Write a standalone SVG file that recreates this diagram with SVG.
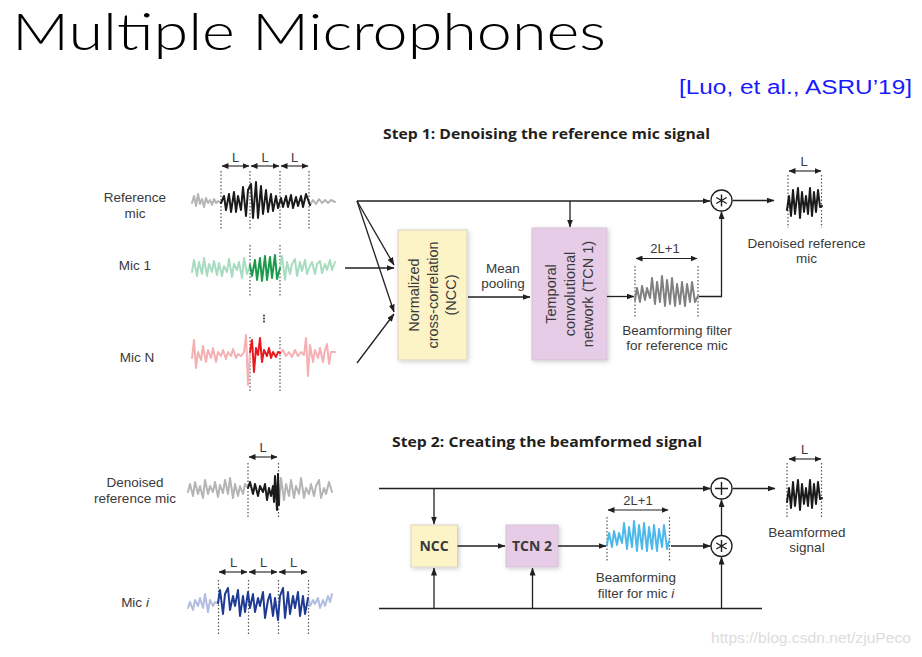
<svg xmlns="http://www.w3.org/2000/svg" width="922" height="657" viewBox="0 0 922 657">
<style>
.lbl{font-family:"Liberation Sans",Arial,sans-serif;font-size:13.5px;fill:#3a3a3a;text-anchor:middle}
.sm{font-family:"Liberation Sans",Arial,sans-serif;font-size:13px;fill:#3a3a3a;text-anchor:middle}
.hd{font-family:"Open Sans","Liberation Sans",sans-serif;font-size:15px;font-weight:bold;fill:#231f20}
.bx{font-family:"Liberation Sans",Arial,sans-serif;font-size:14.5px;fill:#3a3a3a;text-anchor:middle}
.bxb{font-family:"Open Sans","Liberation Sans",sans-serif;font-size:14px;font-weight:bold;fill:#3a3a3a;text-anchor:middle}
.ln{fill:none;stroke:#231f20;stroke-width:1.3}
.arr{fill:none;stroke:#231f20;stroke-width:1.3;marker-end:url(#ah)}
.dim{fill:none;stroke:#231f20;stroke-width:1.1;marker-end:url(#ah2);marker-start:url(#ah2s)}
.dot{fill:none;stroke:#555;stroke-width:1.2;stroke-dasharray:1.5 2}
.wv{fill:none;stroke-width:2;stroke-linejoin:round;stroke-linecap:round}
.op{fill:#fff;stroke:#231f20;stroke-width:1.3}
</style>
<defs>
<marker id="ah" markerWidth="8" markerHeight="6" refX="7.5" refY="3" orient="auto" markerUnits="userSpaceOnUse"><path d="M0,0 L8,3 L0,6 z" fill="#231f20"/></marker>
<marker id="ah2" markerWidth="7" markerHeight="6" refX="6.5" refY="3" orient="auto" markerUnits="userSpaceOnUse"><path d="M0,0 L7,3 L0,6 z" fill="#231f20"/></marker>
<marker id="ah2s" markerWidth="7" markerHeight="6" refX="0.5" refY="3" orient="auto" markerUnits="userSpaceOnUse"><path d="M7,0 L0,3 L7,6 z" fill="#231f20"/></marker>
<filter id="sh" x="-20%" y="-20%" width="140%" height="140%"><feDropShadow dx="1.5" dy="1.5" stdDeviation="2" flood-color="#000" flood-opacity="0.18"/></filter>
</defs>
<rect width="922" height="657" fill="#fff"/>

<g id="title">
<text x="12" y="50" font-family="Lato,'Liberation Sans',sans-serif" font-weight="300" font-size="52" fill="#000" textLength="594" lengthAdjust="spacingAndGlyphs">Multiple Microphones</text>
<text x="679" y="94" font-family="'Liberation Sans',sans-serif" font-size="20" fill="#1a1aff" textLength="233" lengthAdjust="spacingAndGlyphs">[Luo, et al., ASRU’19]</text>
</g>

<g id="step1-heading"><text class="hd" x="383" y="139" textLength="327" lengthAdjust="spacingAndGlyphs">Step 1: Denoising the reference mic signal</text></g>
<g id="step2-heading"><text class="hd" x="392" y="447" textLength="310" lengthAdjust="spacingAndGlyphs">Step 2: Creating the beamformed signal</text></g>

<g id="ref-mic">
<text class="lbl" x="135" y="202">Reference</text>
<text class="lbl" x="135" y="218">mic</text>
<line class="dot" x1="221" y1="171" x2="221" y2="229"/>
<line class="dot" x1="250" y1="171" x2="250" y2="229"/>
<line class="dot" x1="280" y1="171" x2="280" y2="229"/>
<line class="dot" x1="309" y1="171" x2="309" y2="229"/>
<line class="dim" x1="222" y1="166" x2="249" y2="166"/>
<line class="dim" x1="251" y1="166" x2="279" y2="166"/>
<line class="dim" x1="281" y1="166" x2="308" y2="166"/>
<text class="sm" x="235.5" y="161.5">L</text>
<text class="sm" x="265" y="161.5">L</text>
<text class="sm" x="294.5" y="161.5">L</text>
<polyline class="wv" stroke="#b5b5b5" points="192,203 194,196 196,206 198,194 200,204 202,199 204,207 206,198 208,203 210,200 212,205 214,199 216,203 218,201 221,203"/>
<polyline class="wv" stroke="#b5b5b5" points="310,205 313,200 316,204 319,199 322,203 325,200 328,203 331,200 335,202"/>
<polyline class="wv" stroke="#1a1a1a" stroke-width="2.6" points="221,203 224,196 226,210 229,194 231,212 234,192 236,212 238,196 241,210 243,187 246,216 248,190 251,184 253,218 256,182 258,218 261,186 263,214 266,190 268,212 271,194 273,211 276,196 278,208 281,198 283,207 286,196 288,207 291,195 293,208 296,197 298,206 301,196 303,207 306,194 310,205"/>
</g>

<g id="mic1">
<text class="lbl" x="135" y="270">Mic 1</text>
<line class="dot" x1="250" y1="245" x2="250" y2="297"/>
<line class="dot" x1="280" y1="245" x2="280" y2="297"/>
<polyline class="wv" stroke="#a8dcc0" points="192,272 194,260 197,276 199,262 202,274 204,258 207,276 209,264 212,272 214,261 217,275 219,263 222,276 224,266 227,272 229,259 232,277 234,264 237,270 239,262 242,278 244,258 247,274 250,265"/>
<polyline class="wv" stroke="#a8dcc0" points="280,268 282,256 285,280 287,262 290,274 292,264 295,259 297,276 300,262 302,271 305,260 307,274 310,266 312,262 315,274 317,264 320,261 322,273 325,264 327,270 330,260 332,270 335,262"/>
<polyline class="wv" stroke="#1b9a4b" stroke-width="2.6" points="250,265 252,276 255,260 257,280 260,258 262,281 265,256 267,280 270,257 272,278 275,255 277,279 280,268"/>
</g>

<g id="vdots">
<circle cx="264" cy="315.5" r="1" fill="#333"/>
<circle cx="264" cy="318.5" r="1" fill="#333"/>
<circle cx="264" cy="321.5" r="1" fill="#333"/>
</g>

<g id="micN">
<text class="lbl" x="137" y="361.5">Mic N</text>
<line class="dot" x1="250" y1="337" x2="250" y2="392"/>
<line class="dot" x1="280" y1="337" x2="280" y2="392"/>
<polyline class="wv" stroke="#f5b0b3" stroke-width="1.8" points="192,358 194,340 196,368 198,352 201,360 203,346 206,362 208,350 211,358 213,348 216,362 218,352 221,356 223,350 226,359 228,352 231,356 233,349 236,358 238,354 241,356 244,352 246,335 248,385 250,352"/>
<polyline class="wv" stroke="#f5b0b3" stroke-width="1.8" points="280,353 283,350 286,356 289,352 292,357 295,350 298,356 301,352 304,355 306,338 308,376 310,345 313,362 315,350 318,358 320,348 323,362 325,350 327,344 329,364 331,352 335,352"/>
<polyline class="wv" stroke="#e8191f" stroke-width="2.4" points="250,352 252,340 254,372 256,348 258,355 260,338 262,362 264,350 267,356 269,348 271,358 273,352 276,357 278,352 280,353"/>
</g>

<g id="ncc1">
<rect x="398" y="230" width="69" height="130" fill="#fcf3c7" stroke="#d9d4c0" stroke-width="1" filter="url(#sh)"/>
<g transform="translate(432.5,295) rotate(-90)">
<text class="bx" x="0" y="-13.5">Normalized</text>
<text class="bx" x="0" y="5">cross-correlation</text>
<text class="bx" x="0" y="23.5">(NCC)</text>
</g>
</g>

<g id="mean-pooling">
<text class="lbl" x="503" y="273">Mean</text>
<text class="lbl" x="503" y="288">pooling</text>
</g>

<g id="tcn1">
<rect x="532" y="228" width="75" height="132" fill="#e6cce6" stroke="#d5c3d5" stroke-width="1" filter="url(#sh)"/>
<g transform="translate(569.5,294) rotate(-90)">
<text class="bx" x="0" y="-13.5">Temporal</text>
<text class="bx" x="0" y="5">convolutional</text>
<text class="bx" x="0" y="23.5">network (TCN 1)</text>
</g>
</g>

<g id="filter1">
<text class="sm" x="665" y="253">2L+1</text>
<line class="dim" x1="636" y1="258.5" x2="697" y2="258.5"/>
<line class="dot" x1="635" y1="266" x2="635" y2="317"/>
<line class="dot" x1="698" y1="266" x2="698" y2="317"/>
<polyline class="wv" stroke="#808080" stroke-width="2.2" points="635,300 637,288 640,302 642,286 645,300 647,288 650,298 652,278 655,304 657,282 660,302 662,276 665,306 667,280 670,304 672,278 675,306 677,284 680,304 682,282 685,306 687,284 690,302 692,282 695,302 698,296"/>
<text class="lbl" x="677" y="335">Beamforming filter</text>
<text class="lbl" x="677" y="350">for reference mic</text>
</g>

<g id="mult1">
<circle class="op" cx="721.5" cy="200.5" r="10.5"/>
<path d="M721.5,194.5 V206.5 M716.3,197.5 L726.7,203.5 M716.3,203.5 L726.7,197.5" stroke="#231f20" stroke-width="1.4"/>
</g>

<g id="out1">
<text class="sm" x="804" y="166">L</text>
<line class="dim" x1="789" y1="171" x2="821" y2="171"/>
<line class="dot" x1="788" y1="175" x2="788" y2="228"/>
<line class="dot" x1="821.5" y1="175" x2="821.5" y2="228"/>
<polyline class="wv" stroke="#1a1a1a" stroke-width="2.4" points="787,210 789,196 791,216 793,190 795,214 798,188 800,218 802,192 804,212 806,196 808,214 810,188 812,216 814,192 816,212 818,190 820,207 822,206"/>
<text class="lbl" x="806.5" y="248">Denoised reference</text>
<text class="lbl" x="806.5" y="263">mic</text>
</g>

<g id="denoised-ref">
<text class="lbl" x="135" y="486.5">Denoised</text>
<text class="lbl" x="135" y="503">reference mic</text>
<text class="sm" x="263" y="451.5">L</text>
<line class="dim" x1="249" y1="457" x2="277" y2="457"/>
<line class="dot" x1="248" y1="463" x2="248" y2="517"/>
<line class="dot" x1="278.5" y1="463" x2="278.5" y2="517"/>
<polyline class="wv" stroke="#b5b5b5" points="188,492 190,484 193,496 195,482 198,494 200,486 203,498 205,480 208,494 210,486 213,492 215,482 218,497 220,485 223,493 225,480 228,494 230,478 233,498 235,484 238,496 240,486 243,494 245,484 248,488"/>
<polyline class="wv" stroke="#b5b5b5" points="279,505 281,478 284,500 286,484 289,496 291,480 294,498 296,486 299,494 301,478 304,498 306,488 309,494 311,484 314,496 316,486 319,480 321,498 324,488 326,494 329,482 332,492"/>
<polyline class="wv" stroke="#1a1a1a" stroke-width="2.6" points="248,488 250,482 253,494 255,484 258,496 260,486 263,492 265,484 267,500 269,488 271,496 273,486 274,502 275,476 277,510 278,474 279,505"/>
</g>

<g id="mici">
<text class="lbl" x="135" y="606.5">Mic <tspan font-style="italic">i</tspan></text>
<text class="sm" x="233.5" y="566.5">L</text>
<text class="sm" x="263.5" y="566.5">L</text>
<text class="sm" x="293.5" y="566.5">L</text>
<line class="dim" x1="219" y1="572" x2="247" y2="572"/>
<line class="dim" x1="249" y1="572" x2="277" y2="572"/>
<line class="dim" x1="279" y1="572" x2="307" y2="572"/>
<line class="dot" x1="218.5" y1="580" x2="218.5" y2="634"/>
<line class="dot" x1="248.5" y1="580" x2="248.5" y2="634"/>
<line class="dot" x1="278.5" y1="580" x2="278.5" y2="634"/>
<line class="dot" x1="308.5" y1="580" x2="308.5" y2="634"/>
<polyline class="wv" stroke="#b3bde0" stroke-width="1.8" points="188,608 190,602 193,610 195,600 198,606 200,598 203,608 205,594 208,612 210,600 213,606 215,602 218,603"/>
<polyline class="wv" stroke="#b3bde0" stroke-width="1.8" points="308,598 310,606 313,600 315,604 318,598 320,608 323,600 325,606 328,596 330,602 332,594"/>
<polyline class="wv" stroke="#1f3a93" stroke-width="2.6" points="218,603 220,590 223,614 225,594 228,588 230,610 233,596 235,606 238,590 240,616 243,596 245,612 248,592 250,608 253,594 255,612 258,598 260,606 263,592 265,618 268,600 270,594 273,616 275,598 278,620 280,596 283,588 285,618 288,592 290,614 293,596 295,608 298,592 300,616 303,596 305,614 308,598"/>
</g>

<g id="ncc2">
<rect x="411" y="525" width="46.5" height="42" fill="#fcf3c7" stroke="#d9d4c0" stroke-width="1" filter="url(#sh)"/>
<text class="bxb" x="434" y="551">NCC</text>
</g>

<g id="tcn2">
<rect x="506" y="525" width="52" height="42" fill="#e6cce6" stroke="#d5c3d5" stroke-width="1" filter="url(#sh)"/>
<text class="bxb" x="532" y="551">TCN 2</text>
</g>

<g id="filter2">
<text class="sm" x="638" y="505">2L+1</text>
<line class="dim" x1="608" y1="510" x2="668" y2="510"/>
<line class="dot" x1="607" y1="517" x2="607" y2="561"/>
<line class="dot" x1="669.5" y1="517" x2="669.5" y2="561"/>
<polyline class="wv" stroke="#4db8ea" stroke-width="2.2" points="607,545 609,533 612,547 614,531 617,545 619,533 622,543 624,523 627,549 629,527 632,547 634,521 637,551 639,525 642,549 644,523 647,551 649,527 652,549 654,525 657,551 659,529 662,547 664,525 667,549 669,541"/>
<text class="lbl" x="636" y="582">Beamforming</text>
<text class="lbl" x="636" y="598">filter for mic <tspan font-style="italic">i</tspan></text>
</g>

<g id="add2">
<circle class="op" cx="721.5" cy="488.5" r="10.5"/>
<path d="M721.5,482 V495 M715,488.5 H728" stroke="#231f20" stroke-width="1.4"/>
</g>

<g id="mult2">
<circle class="op" cx="721.5" cy="546" r="10.5"/>
<path d="M721.5,540 V552 M716.3,543 L726.7,549 M716.3,549 L726.7,543" stroke="#231f20" stroke-width="1.4"/>
</g>

<g id="out2">
<text class="sm" x="804.5" y="454">L</text>
<line class="dim" x1="789" y1="459" x2="821" y2="459"/>
<line class="dot" x1="787" y1="463" x2="787" y2="517"/>
<line class="dot" x1="821.5" y1="463" x2="821.5" y2="517"/>
<polyline class="wv" stroke="#1a1a1a" stroke-width="2.4" points="787,502 789,488 791,508 793,482 795,506 798,480 800,510 802,484 804,504 806,488 808,506 810,480 812,508 814,484 816,504 818,482 820,499 822,498"/>
<text class="lbl" x="807" y="537">Beamformed</text>
<text class="lbl" x="807" y="552">signal</text>
</g>

<g id="connectors">
<line class="arr" x1="357" y1="201" x2="710" y2="201"/>
<line class="arr" x1="357" y1="201" x2="394" y2="265"/>
<line class="arr" x1="357" y1="201" x2="394" y2="312"/>
<line class="arr" x1="345" y1="268" x2="394" y2="268"/>
<line class="arr" x1="357" y1="363" x2="394" y2="314"/>
<line class="arr" x1="570" y1="201" x2="570" y2="227"/>
<line class="arr" x1="468" y1="297" x2="530" y2="297"/>
<line class="arr" x1="607" y1="296.5" x2="634" y2="296.5"/>
<polyline class="arr" points="699,296.5 721.5,296.5 721.5,211.5"/>
<line class="arr" x1="732.5" y1="200.5" x2="774" y2="200.5"/>
<line class="arr" x1="379" y1="488.5" x2="710.5" y2="488.5"/>
<line class="ln" x1="379" y1="608.5" x2="762" y2="608.5"/>
<line class="arr" x1="434" y1="488.5" x2="434" y2="524"/>
<line class="arr" x1="434" y1="608.5" x2="434" y2="568"/>
<line class="arr" x1="532.5" y1="608.5" x2="532.5" y2="568"/>
<line class="arr" x1="457.5" y1="546" x2="505" y2="546"/>
<line class="arr" x1="558" y1="546" x2="606" y2="546"/>
<line class="arr" x1="671" y1="546" x2="710.5" y2="546"/>
<line class="arr" x1="721.5" y1="535.5" x2="721.5" y2="499.5"/>
<line class="arr" x1="721.5" y1="608.5" x2="721.5" y2="557"/>
<line class="arr" x1="732.5" y1="488.5" x2="775" y2="488.5"/>
</g>

<g id="watermark"><text x="711" y="643" font-family="'Liberation Sans',sans-serif" font-size="14" fill="#dcdcdc" textLength="200" lengthAdjust="spacingAndGlyphs">https://blog.csdn.net/zjuPeco</text></g>
</svg>
